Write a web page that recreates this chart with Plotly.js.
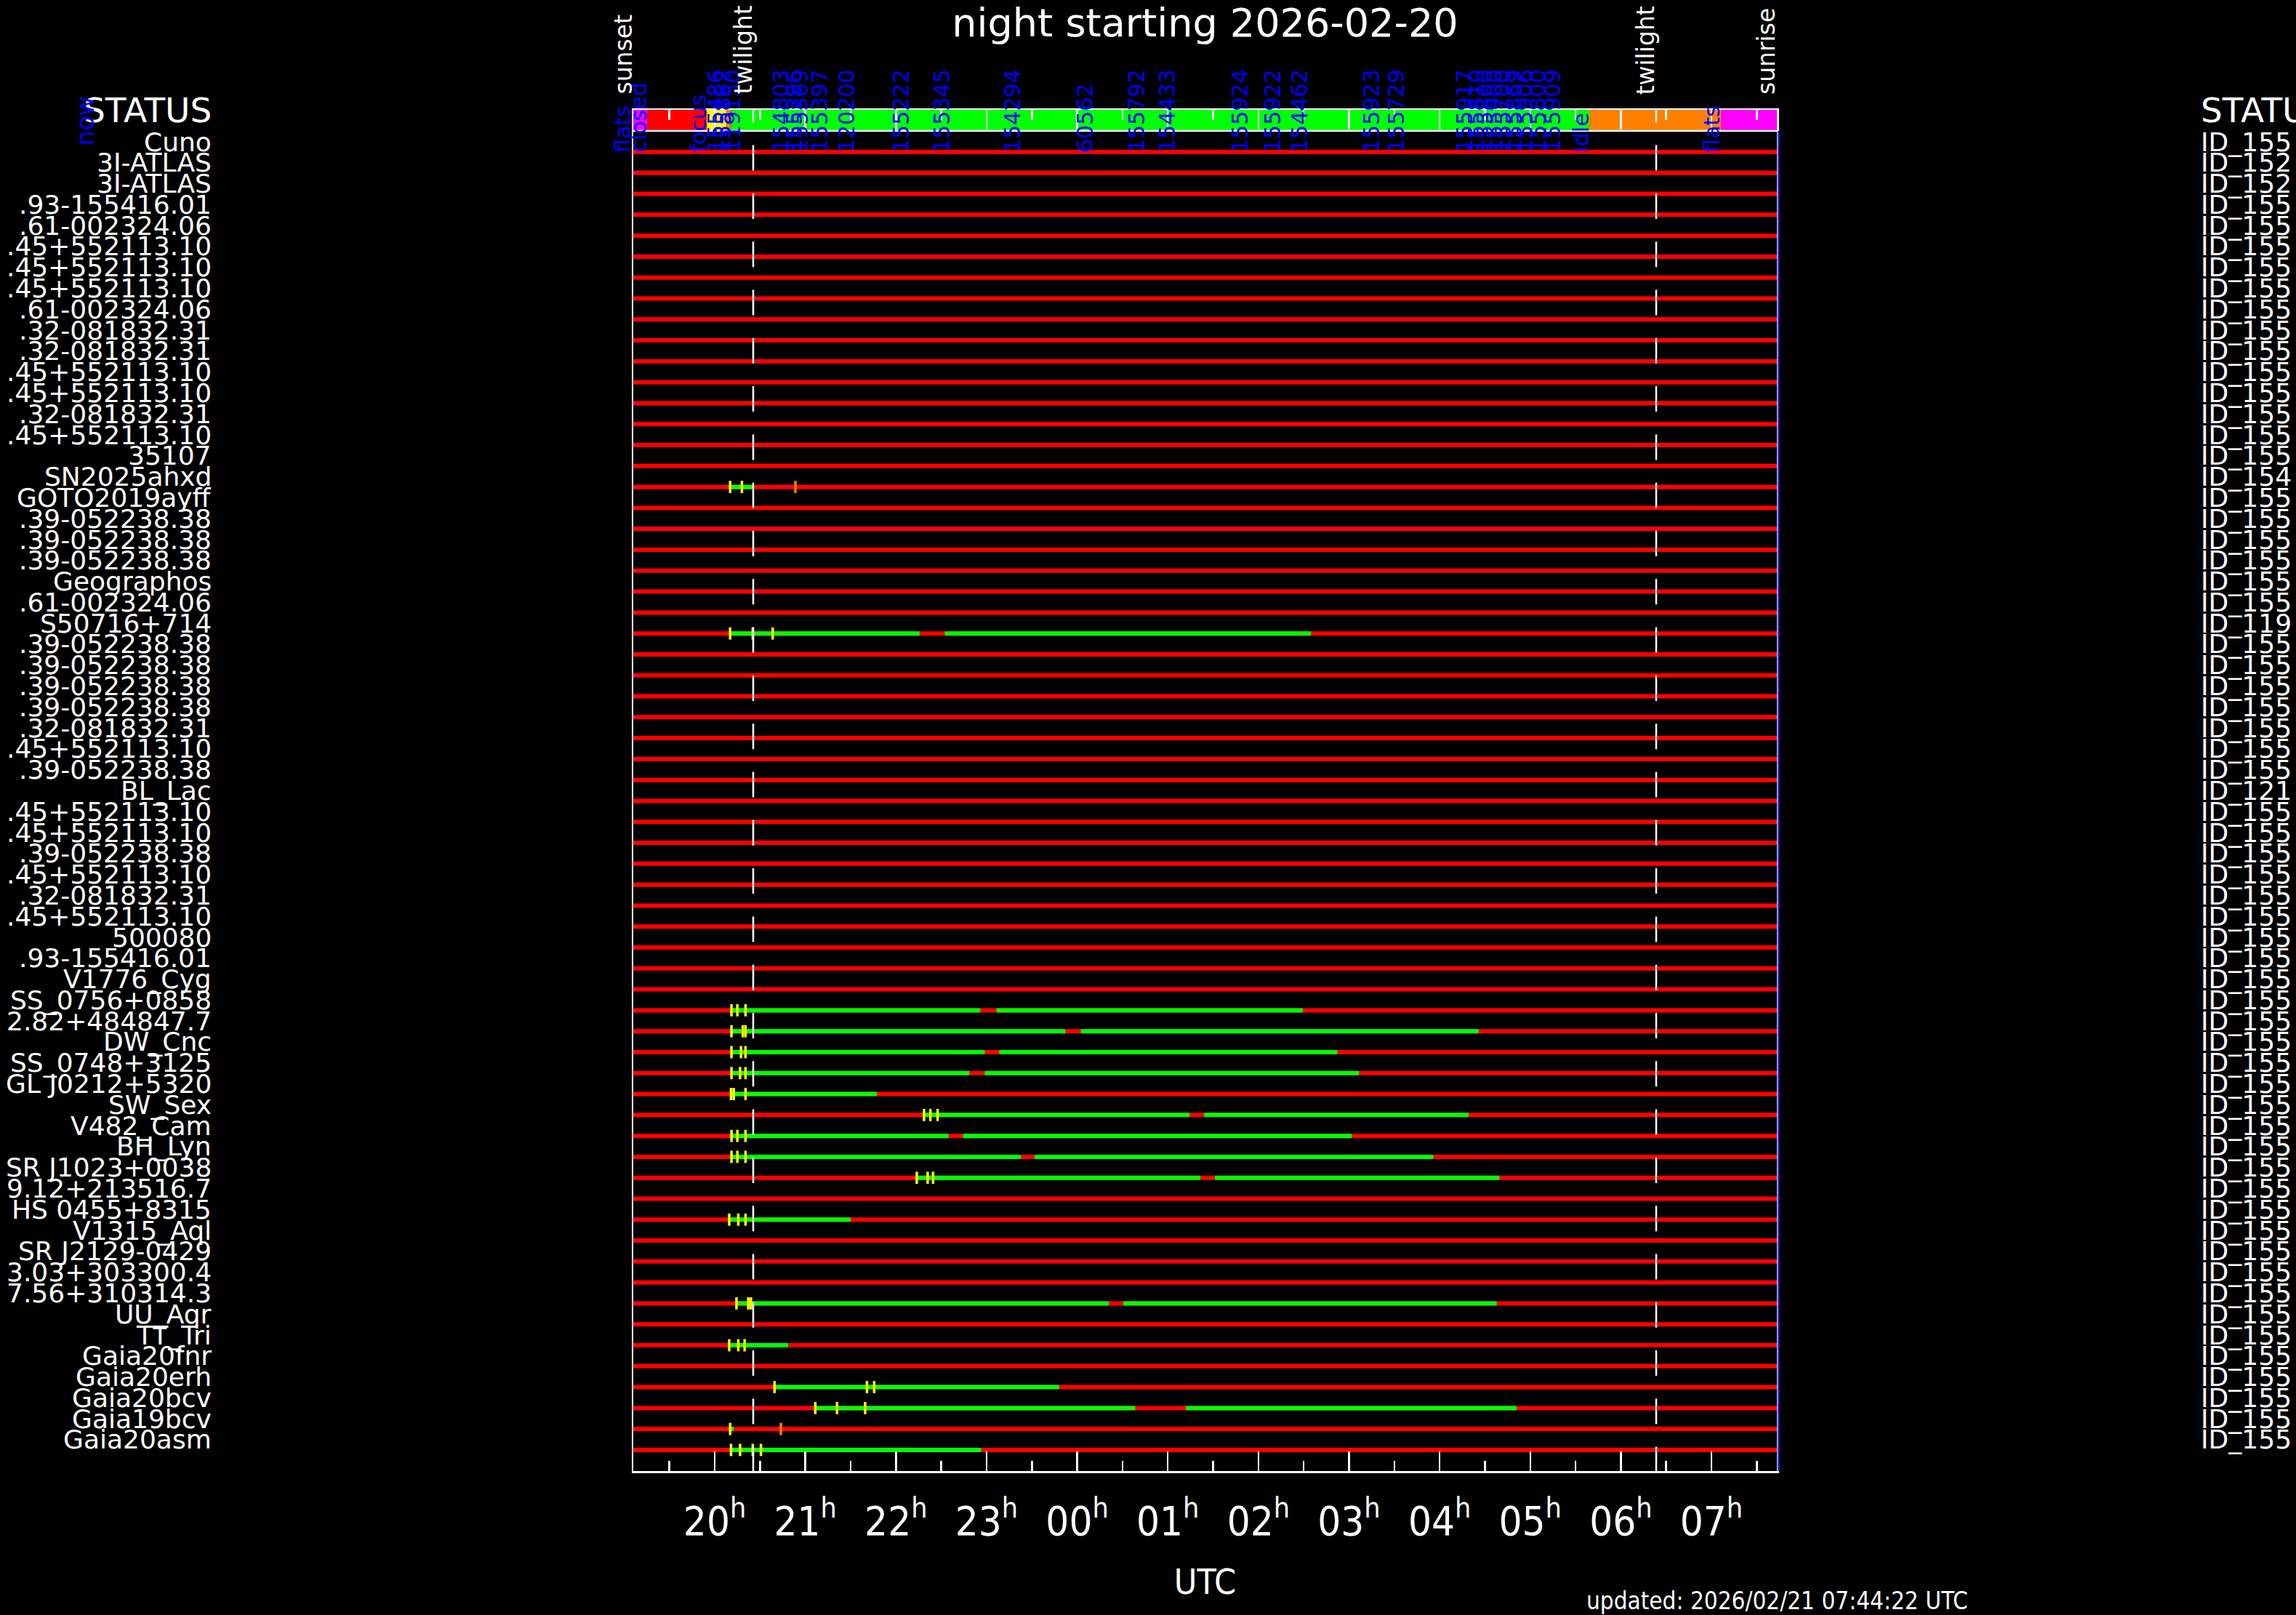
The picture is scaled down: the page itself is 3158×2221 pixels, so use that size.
<!DOCTYPE html>
<html><head><meta charset="utf-8">
<script src="https://cdn.plot.ly/plotly-3.0.1.min.js"></script>
<style>html,body{margin:0;padding:0;background:#000;}#chart{width:3158px;height:2221px;}</style>
</head><body><div id="chart"></div>
<script>
// ---------- data (times in hours since 2026-02-20 00:00 UTC) ----------
const rowNames = ["Cuno","3I-ATLAS","3I-ATLAS",".93-155416.01",".61-002324.06",".45+552113.10",".45+552113.10",".45+552113.10",".61-002324.06",".32-081832.31",".32-081832.31",".45+552113.10",".45+552113.10",".32-081832.31",".45+552113.10","35107","SN2025ahxd","GOTO2019ayff",".39-052238.38",".39-052238.38",".39-052238.38","Geographos",".61-002324.06","S50716+714",".39-052238.38",".39-052238.38",".39-052238.38",".39-052238.38",".32-081832.31",".45+552113.10",".39-052238.38","BL_Lac",".45+552113.10",".45+552113.10",".39-052238.38",".45+552113.10",".32-081832.31",".45+552113.10","500080",".93-155416.01","V1776_Cyg","SS_0756+0858","2.82+484847.7","DW_Cnc","SS_0748+3125","GL J0212+5320","SW_Sex","V482_Cam","BH_Lyn","SR J1023+0038","9.12+213516.7","HS 0455+8315","V1315_Aql","SR J2129-0429","3.03+303300.4","7.56+310314.3","UU_Aqr","TT_Tri","Gaia20fnr","Gaia20erh","Gaia20bcv","Gaia19bcv","Gaia20asm"];
const rowIds = ["ID_155","ID_152","ID_152","ID_155","ID_155","ID_155","ID_155","ID_155","ID_155","ID_155","ID_155","ID_155","ID_155","ID_155","ID_155","ID_155","ID_154","ID_155","ID_155","ID_155","ID_155","ID_155","ID_155","ID_119","ID_155","ID_155","ID_155","ID_155","ID_155","ID_155","ID_155","ID_121","ID_155","ID_155","ID_155","ID_155","ID_155","ID_155","ID_155","ID_155","ID_155","ID_155","ID_155","ID_155","ID_155","ID_155","ID_155","ID_155","ID_155","ID_155","ID_155","ID_155","ID_155","ID_155","ID_155","ID_155","ID_155","ID_155","ID_155","ID_155","ID_155","ID_155","ID_155"];

const sunsetTime = 19.101, sunriseTime = 31.722, nowTime = 31.739;
const twilightTimes = [20.425, 30.39];

// observed (green) segments: row index (0-based), start, end
const greenRow   = [16, 23, 23, 41, 41, 42, 42, 43, 43, 44, 44, 45, 46, 46, 47, 47, 48, 48, 49, 49, 51, 55, 55, 57, 59, 60, 60, 61, 62];
const greenStart = [20.16, 20.17, 22.54, 20.18, 23.11, 20.18, 24.04, 20.18, 23.14, 20.18, 22.98, 20.18, 22.31, 25.40, 20.18, 22.74, 20.18, 23.53, 22.23, 25.52, 20.16, 20.24, 24.51, 20.16, 20.66, 21.11, 25.20, 20.17, 20.18];
const greenEnd   = [20.42, 22.26, 26.58, 22.93, 26.49, 23.87, 28.43, 22.98, 26.87, 22.81, 27.11, 21.79, 25.24, 28.32, 22.58, 27.03, 23.38, 27.93, 25.36, 28.66, 21.50, 24.35, 28.63, 20.81, 23.80, 24.64, 28.85, 20.21, 22.94];

// exposure start marks (yellow)
const yellowRow  = [16,16, 23,23,23, 41,41,41, 42,42,42, 43,43,43, 44,44,44, 45,45,45, 46,46,46, 47,47,47, 48,48,48, 49,49,49, 51,51,51, 55,55,55, 57,57,57, 59,59,59, 60,60,60, 61, 62,62,62,62];
const yellowTime = [20.17,20.30, 20.17,20.42,20.64, 20.185,20.25,20.34, 20.185,20.31,20.34, 20.185,20.29,20.34, 20.185,20.28,20.34, 20.18,20.21,20.34, 22.31,22.38,22.46, 20.185,20.25,20.34, 20.185,20.25,20.34, 22.23,22.35,22.41, 20.16,20.26,20.34, 20.24,20.37,20.40, 20.16,20.26,20.33, 20.66,21.68,21.76, 21.11,21.35,21.66, 20.17, 20.18,20.28,20.42,20.51];
// orange marks
const orangeRow  = [16, 61];
const orangeTime = [20.89, 20.73];

// status bar
const statusStart = [19.101, 19.254, 19.912, 20.13, 20.18, 29.652, 31.104];
const statusEnd   = [19.254, 19.912, 20.13, 20.18, 29.652, 31.104, 31.722];
const statusColor = ["#ff00ff", "#ff0000", "#ffff00", "#ff8000", "#00ff00", "#ff8000", "#ff00ff"];

// blue labels along the status bar
const topLabels = ["flats","closed","focus","155486","155862","119150","154803","155296","155369","155397","120200","155222","155345","154294","60562","155792","154433","155924","155922","154462","155923","155729","155917","155810","155800","155900","155700","155869","155906","155800","155909","idle","flats"];
const topTimes  = [19.085,19.254,19.912,20.112,20.193,20.297,20.834,20.979,21.043,21.26,21.557,22.158,22.607,23.386,24.188,24.758,25.095,25.897,26.258,26.555,27.349,27.622,28.376,28.505,28.601,28.705,28.801,28.922,29.042,29.187,29.347,29.652,31.104];

const sunLabels = ["sunset","twilight","twilight","sunrise"];
const sunTimes  = [19.101, 20.425, 30.39, 31.722];

const hourVals = [20,21,22,23,24,25,26,27,28,29,30,31];
const hourText = ["20","21","22","23","00","01","02","03","04","05","06","07"];

const titleText = "night starting 2026-02-20";
const updatedText = "updated: 2026/02/21 07:44:22 UTC";

// ---------- geometry ----------
const W = 3158, H = 2221, L = 871, R = 2444, T = 151, B = 2023;
const rowTop = -2.0146, rowBottom = 63.008;   // y range (row index)
const statusBottom = -1.007;
const pxPerHour = (R - L) / (sunriseTime - sunsetTime);
const px2x = x => (x - L) / (R - L);
const px2y = y => (B - y) / (B - T);
const FONT = "DejaVu Sans, Verdana, sans-serif";
const COND = "DejaVu Sans Condensed, Liberation Sans Narrow, Roboto Condensed, DejaVu Sans, sans-serif";

// ---------- traces ----------
const redX = [], redY = [];
rowNames.forEach((n, i) => { redX.push(sunsetTime, sunriseTime, null); redY.push(i, i, null); });
const grX = [], grY = [];
greenRow.forEach((r, k) => { grX.push(greenStart[k], greenEnd[k], null); grY.push(r, r, null); });

const traces = [
  {type:'scatter', mode:'lines', x:redX, y:redY, line:{color:'#ff0000', width:6}, hoverinfo:'skip', showlegend:false},
  {type:'scatter', mode:'lines', x:grX, y:grY, line:{color:'#00ff00', width:6}, hoverinfo:'skip', showlegend:false},
  {type:'scatter', mode:'markers', x:yellowTime, y:yellowRow, marker:{symbol:'line-ns', size:12, line:{color:'#ffff00', width:3.5}}, hoverinfo:'skip', showlegend:false},
  {type:'scatter', mode:'markers', x:orangeTime, y:orangeRow, marker:{symbol:'line-ns', size:12, line:{color:'#ff8000', width:3.5}}, hoverinfo:'skip', showlegend:false}
];

// ---------- shapes ----------
const shapes = [];
statusStart.forEach((s, k) => shapes.push({type:'rect', xref:'x', yref:'y', x0:s, x1:statusEnd[k], y0:rowTop, y1:statusBottom, fillcolor:statusColor[k], line:{width:0}, layer:'below'}));
shapes.push({type:'line', xref:'paper', yref:'y', x0:0, x1:1, y0:statusBottom, y1:statusBottom, line:{color:'#ffffff', width:2.5}, layer:'above'});
twilightTimes.forEach(t => shapes.push({type:'line', xref:'x', yref:'y', x0:t, x1:t, y0:-2.63, y1:rowBottom, line:{color:'#ffffff', width:2.5, dash:'35px,31.3px'}, layer:'above'}));
// "now" marker just past the right edge
const nowFrac = (nowTime - sunsetTime) / (sunriseTime - sunsetTime);
shapes.push({type:'line', xref:'paper', yref:'y', x0:nowFrac, x1:nowFrac, y0:statusBottom, y1:rowBottom, line:{color:'#3030ff', width:2.5}, layer:'above'});

// ---------- annotations ----------
const ann = [];
rowNames.forEach((n, i) => ann.push({xref:'paper', yref:'y', x:px2x(293), y:i, yshift:14, xanchor:'right', yanchor:'middle', text:n, showarrow:false, font:{family:FONT, size:36, color:'#ffffff'}}));
rowIds.forEach((n, i) => ann.push({xref:'paper', yref:'y', x:px2x(3025), y:i, yshift:14, xanchor:'left', yanchor:'middle', text:n, showarrow:false, font:{family:FONT, size:36, color:'#ffffff'}}));
ann.push({xref:'paper', yref:'paper', x:px2x(293), y:px2y(151), xanchor:'right', yanchor:'middle', text:'STATUS', showarrow:false, font:{family:FONT, size:47, color:'#ffffff'}});
ann.push({xref:'paper', yref:'paper', x:px2x(3025), y:px2y(151), xanchor:'left', yanchor:'middle', text:'STATUS', showarrow:false, font:{family:FONT, size:47, color:'#ffffff'}});
topLabels.forEach((t, k) => {
  const tx = topTimes[k], cx = Math.max(tx, sunsetTime);   // keep anchor inside the axis range
  ann.push({xref:'x', yref:'paper', x:cx, xshift:7 + (tx - cx) * pxPerHour, y:px2y(212), xanchor:'right', yanchor:'bottom', textangle:-90, text:t, showarrow:false, font:{family:FONT, size:30, color:'#0000ff'}});
});
sunLabels.forEach((t, k) => ann.push({xref:'x', yref:'paper', x:sunTimes[k], xshift:7, y:px2y(132), xanchor:'right', yanchor:'bottom', textangle:-90, text:t, showarrow:false, font:{family:FONT, size:33, color:'#ffffff'}}));
ann.push({xref:'paper', yref:'paper', x:px2x(138), y:px2y(203), xanchor:'right', yanchor:'bottom', textangle:-90, text:'now', showarrow:false, font:{family:FONT, size:33, color:'#0000ff'}});
ann.push({xref:'paper', yref:'paper', x:px2x(2180), y:px2y(2201), xanchor:'left', yanchor:'middle', text:updatedText, showarrow:false, font:{family:COND, size:33, color:'#ffffff'}});

const layout = {
  width:W, height:H,
  paper_bgcolor:'#000000', plot_bgcolor:'#000000',
  margin:{l:L, r:W-R, t:T, b:H-B, pad:0},
  showlegend:false,
  title:{text:titleText, x:0.5, xref:'paper', xanchor:'center', y:1-31/H, yref:'container', yanchor:'middle', font:{family:FONT, size:54, color:'#ffffff'}},
  xaxis:{range:[sunsetTime, sunriseTime], tickmode:'array', tickvals:hourVals, ticktext:hourText.map(h => h + '<sup>h</sup>'),
    ticks:'inside', ticklen:27, tickwidth:2.5, tickcolor:'#ffffff', showline:true, linecolor:'#ffffff', linewidth:2.5, mirror:'ticks',
    showgrid:false, zeroline:false, ticklabelstandoff:18,
    minor:{tickmode:'array', tickvals:[19.5].concat(hourVals.map(h => h + 0.5)).filter(v => v < sunriseTime), ticks:'inside', ticklen:14, tickwidth:2.5, tickcolor:'#ffffff', showgrid:false},
    tickfont:{family:COND, size:56, color:'#ffffff'},
    title:{text:'UTC', font:{family:COND, size:48, color:'#ffffff'}, standoff:36}},
  yaxis:{range:[rowBottom, rowTop], showticklabels:false, ticks:'', showgrid:false, zeroline:false, showline:true, linecolor:'#ffffff', linewidth:2.5, mirror:true},
  shapes:shapes, annotations:ann
};
Plotly.newPlot('chart', traces, layout, {staticPlot:true, displayModeBar:false});
</script></body></html>
